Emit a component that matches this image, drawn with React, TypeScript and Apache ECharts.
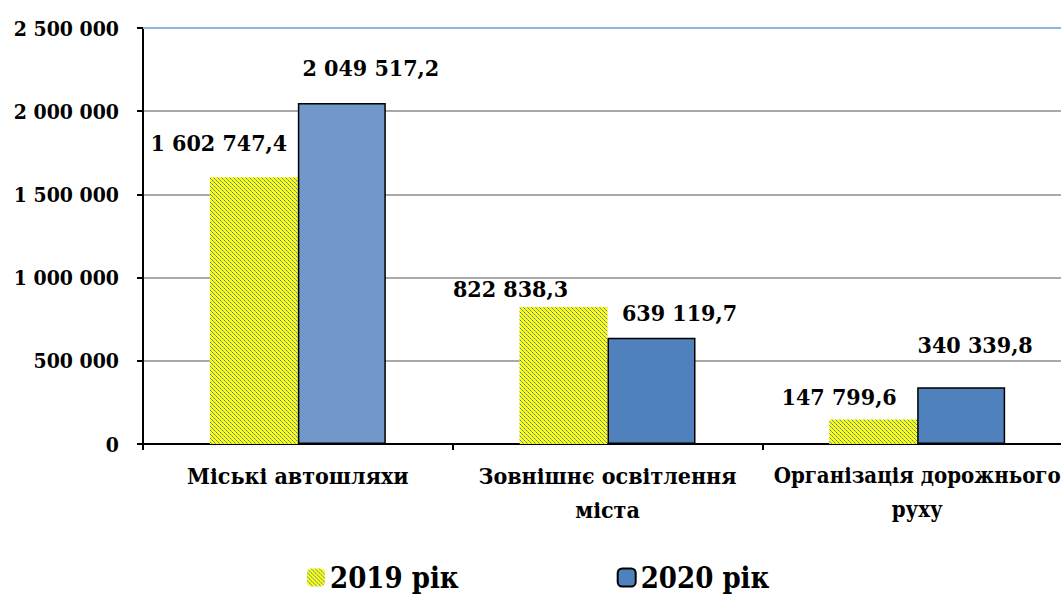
import React, { useEffect, useRef } from "react";
import * as echarts from "echarts";

const categories = ["Міські автошляхи", "Зовнішнє освітлення\nміста", "Організація дорожнього\nруху"];
const values2019 = [1602747.4, 822838.3, 147799.6];
const values2020 = [2049517.2, 639119.7, 340339.8];
const seriesNames = ["2019 рік", "2020 рік"];
const yTicks = { min: 0, max: 2500000, interval: 500000 };

const FONT = "DejaVu Serif Condensed, DejaVu Serif";

function groupDigits(s: string) {
  return s.replace(/\B(?=(\d{3})+(?!\d))/g, " ");
}
function fmtValue(v: number) {
  const [i, d] = v.toFixed(1).split(".");
  return groupDigits(i) + "," + d;
}

function makePattern() {
  const c = document.createElement("canvas");
  c.width = 4;
  c.height = 4;
  const ctx = c.getContext("2d")!;
  ctx.fillStyle = "#ffff00";
  ctx.fillRect(0, 0, 4, 4);
  for (let i = 0; i < 4; i++) {
    ctx.fillStyle = i % 2 === 0 ? "#4a7fd8" : "#7f9fb0";
    ctx.fillRect(i, i, 1, 1);
  }
  return c.toDataURL();
}

export default function App() {
  const ref = useRef<HTMLDivElement>(null);
  useEffect(() => {
    document.body.style.margin = "0";
    const chart = echarts.init(ref.current!, undefined, { renderer: "svg" });
    const pattern = { image: makePattern(), repeat: "repeat", imageWidth: 4, imageHeight: 4 };
    const off2019 = [[-35, -18], [-53, -2], [-34, -6]];
    const off2020 = [[29, -19], [28, -9], [14, -26]];
    const labelBase = {
      show: true,
      position: "top",
      color: "#000",
      fontFamily: FONT,
      fontWeight: "bold",
      fontSize: 23,
      formatter: (p: any) => fmtValue(p.value),
    };
    chart.setOption({
      animation: false,
      backgroundColor: "#fff",
      grid: { left: 143, top: 28, width: 929, height: 416, outerBoundsMode: "none" },
      legend: {
        left: 302,
        top: 558,
        itemWidth: 18,
        itemHeight: 18,
        itemGap: 158,
        textStyle: { fontFamily: FONT, fontWeight: "bold", fontSize: 29, color: "#000" },
        data: seriesNames,
      },
      xAxis: {
        type: "category",
        data: categories.map((c, i) =>
          i === categories.length - 1 ? { value: c, textStyle: { fontSize: 22 } } : c
        ),
        axisLine: { lineStyle: { color: "#000", width: 2 } },
        axisTick: { show: true, length: 6, lineStyle: { color: "#000", width: 2 } },
        axisLabel: {
          interval: 0,
          margin: 14,
          color: "#000",
          fontFamily: FONT,
          fontWeight: "bold",
          fontSize: 23,
          lineHeight: 34,
        },
      },
      yAxis: {
        type: "value",
        min: yTicks.min,
        max: yTicks.max,
        interval: yTicks.interval,
        axisLine: { show: true, lineStyle: { color: "#000", width: 2 } },
        axisTick: { show: true, length: 6, lineStyle: { color: "#000", width: 2 } },
        splitLine: { lineStyle: { color: "#8c8c8c", width: 1.5 } },
        axisLabel: {
          margin: 24,
          color: "#000",
          fontFamily: FONT,
          fontWeight: "bold",
          fontSize: 21,
          formatter: (v: number) => groupDigits(String(v)),
        },
      },
      series: [
        {
          name: seriesNames[0],
          type: "bar",
          barWidth: 88,
          barGap: "0%",
          itemStyle: { color: pattern },
          data: values2019.map((v, i) => ({
            value: v,
            label: { ...labelBase, offset: off2019[i] },
          })),
          markLine: {
            silent: true,
            symbol: "none",
            label: { show: false },
            lineStyle: { color: "#93b3e3", width: 2, type: "solid" },
            data: [{ yAxis: yTicks.max }],
          },
        },
        {
          name: seriesNames[1],
          type: "bar",
          barWidth: 88,
          barGap: "0%",
          itemStyle: { color: "#4f81bd", borderColor: "#000", borderWidth: 1.5 },
          data: values2020.map((v, i) => ({
            value: v,
            itemStyle: i === 0 ? { color: "#7198c9", borderColor: "#000", borderWidth: 1.5 } : undefined,
            label: { ...labelBase, offset: off2020[i] },
          })),
        },
      ],
    });
    return () => chart.dispose();
  }, []);
  return <div ref={ref} style={{ width: 1061, height: 597 }} />;
}
